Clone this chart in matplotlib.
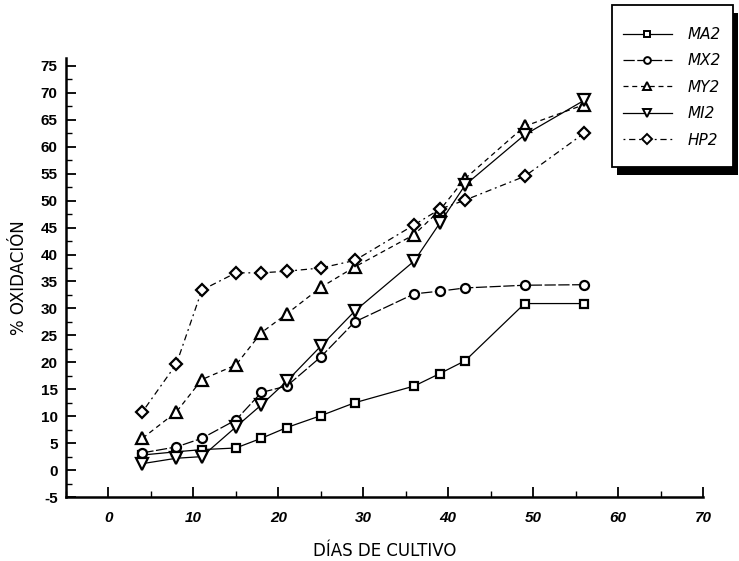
import matplotlib
matplotlib.use("Agg")
import matplotlib.pyplot as plt
from matplotlib.ticker import MultipleLocator
from matplotlib.patches import Rectangle
from matplotlib.lines import Line2D

# Days of culture and oxidation (%) per series
dias = [4, 8, 11, 15, 18, 21, 25, 29, 36, 39, 42, 49, 56]
ma2 = [2.8, 3.4, 3.8, 4.1, 5.9, 7.9, 10.1, 12.5, 15.6, 17.9, 20.3, 30.9, 30.9]
mx2 = [3.2, 4.3, 5.9, 9.3, 14.4, 15.6, 21.0, 27.5, 32.7, 33.2, 33.8, 34.3, 34.4]
my2 = [5.9, 10.8, 16.8, 19.5, 25.5, 29.0, 33.9, 37.7, 43.7, 48.2, 54.1, 63.8, 67.8]
mi2 = [1.2, 2.2, 2.5, 8.0, 12.1, 16.5, 23.0, 29.5, 38.8, 45.8, 52.9, 62.2, 68.6]
hp2 = [10.8, 19.7, 33.4, 36.6, 36.6, 36.9, 37.5, 38.9, 45.5, 48.4, 50.1, 54.5, 62.5]

labels = ["MA2", "MX2", "MY2", "MI2", "HP2"]
xticks = [0, 10, 20, 30, 40, 50, 60, 70]
yticks = list(range(-5, 80, 5))

plt.rcParams["font.family"] = ["Liberation Sans Narrow", "Liberation Sans", "DejaVu Sans"]
plt.rcParams["axes.unicode_minus"] = False

fig = plt.figure(figsize=(7.39, 5.61), dpi=100)
ax = fig.add_axes([0.0893, 0.114, 0.862, 0.783])

styles = [
    dict(marker="s", ms=5.5, ls="-"),
    dict(marker="o", ms=6.5, ls=(0, (9, 2))),
    dict(marker="^", ms=8, ls=(0, (4, 3))),
    dict(marker="v", ms=8, ls="-"),
    dict(marker="D", ms=6.5, ls=(0, (1.5, 3, 5, 3))),
]
series = [ma2, mx2, my2, mi2, hp2]
for vals, st, lab in zip(series, styles, labels):
    ax.plot(dias, vals, color="black", lw=0.9, marker=st["marker"],
            ms=st["ms"], mfc="white", mec="black", mew=1.6,
            linestyle=st["ls"], label=lab)

ax.set_xlim(-5, 70)
ax.set_ylim(-5, 76.5)
ax.set_xticks(xticks)
ax.set_yticks(yticks)
ax.xaxis.set_minor_locator(MultipleLocator(5))
ax.yaxis.set_minor_locator(MultipleLocator(2.5))
ax.tick_params(which="major", direction="in", length=7, width=1.3, labelsize=11)
ax.tick_params(which="minor", direction="in", length=4, width=1.0)
for t in ax.get_xticklabels():
    t.set_fontstyle("italic")
    t.set_fontweight("bold")
for t in ax.get_yticklabels():
    t.set_fontweight("bold")
ax.tick_params(axis="x", pad=10)
ax.tick_params(axis="y", pad=6)

for side in ("top", "right"):
    ax.spines[side].set_visible(False)
for side in ("left", "bottom"):
    ax.spines[side].set_linewidth(1.8)

ax.set_xlabel("DÍAS DE CULTIVO", fontsize=12, labelpad=12,
              family=["DejaVu Sans"])
ax.set_ylabel("% OXIDACIÓN", fontsize=12, labelpad=9,
              family=["DejaVu Sans"])

# Legend entries without a frame; the box and its shadow are drawn below
handles = [Line2D([], [], color="black", lw=0.9, marker=st["marker"],
                  ms=st["ms"] * 0.75, mfc="white", mec="black", mew=1.4,
                  linestyle=st["ls"]) for st in styles]
leg = fig.legend(handles, labels, loc="upper left",
                 bbox_to_anchor=(0.843, 0.952), bbox_transform=fig.transFigure,
                 borderaxespad=0, borderpad=0, frameon=False,
                 handlelength=3.2, labelspacing=0.75, handletextpad=1.0,
                 prop=dict(family="DejaVu Sans", size=11, style="italic"))
leg.set_zorder(6)

box_x0, box_x1 = 0.828, 0.992
box_y0, box_y1 = 0.702, 0.991
shadow = Rectangle((box_x0 + 0.007, box_y0 - 0.014), box_x1 - box_x0,
                   box_y1 - box_y0, transform=fig.transFigure,
                   facecolor="black", edgecolor="none", zorder=4)
frame = Rectangle((box_x0, box_y0), box_x1 - box_x0, box_y1 - box_y0,
                  transform=fig.transFigure, facecolor="white",
                  edgecolor="black", linewidth=1.3, zorder=5)
fig.patches.extend([shadow, frame])

fig.savefig("out.png", dpi=100)
